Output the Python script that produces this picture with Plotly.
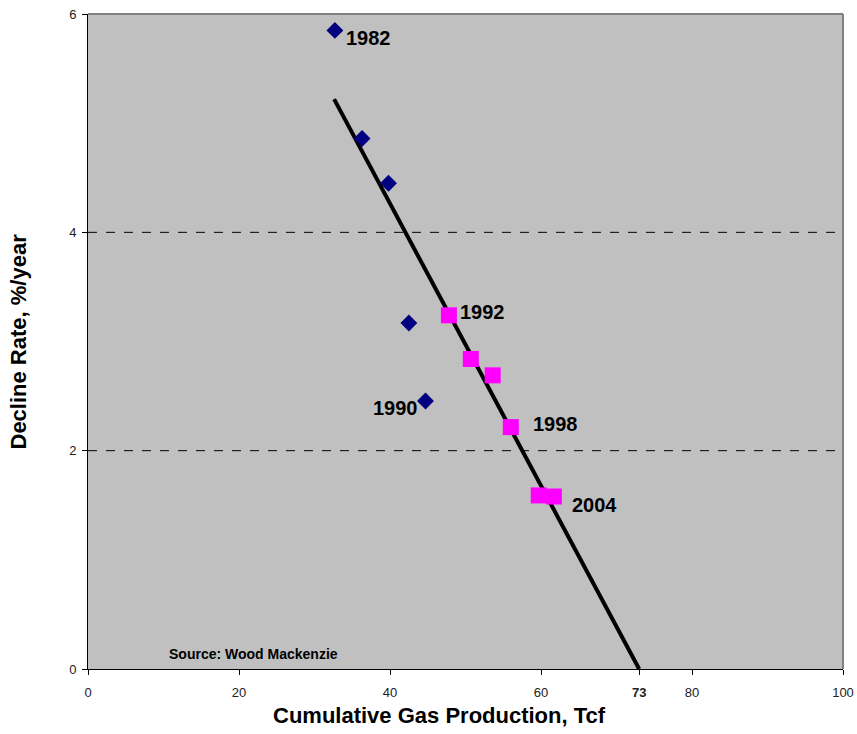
import plotly.graph_objects as go

# Data
blue_x = [32.7, 36.3, 39.8, 42.5, 44.7]
blue_y = [5.85, 4.86, 4.45, 3.17, 2.455]
mag_x = [47.8, 50.7, 53.6, 56.0, 59.7, 61.7]
mag_y = [3.24, 2.84, 2.69, 2.216, 1.59, 1.58]
trend_x = [32.6, 73.0]
trend_y = [5.22, 0.0]

year_labels = ["1982", "1990", "1992", "1998", "2004"]
label_x = [34.0, 43.9, 49.2, 58.8, 64.0]
label_y = [5.78, 2.39, 3.27, 2.24, 1.50]
label_anchor = ["left", "right", "left", "left", "left"]

x_ticks = [0, 20, 40, 60, 73, 80, 100]
x_ticktext = ["0", "20", "40", "60", "<b>73</b>", "80", "100"]
y_ticks = [0, 2, 4, 6]
grid_y = [2, 4]

FONT = "Liberation Sans, Arial"

fig = go.Figure()
fig.add_trace(go.Scatter(x=trend_x, y=trend_y, mode="lines",
                         line=dict(color="black", width=4), showlegend=False))
fig.add_trace(go.Scatter(x=blue_x, y=blue_y, mode="markers",
                         marker=dict(symbol="diamond", size=13, color="#000080"),
                         showlegend=False))
fig.add_trace(go.Scatter(x=mag_x, y=mag_y, mode="markers",
                         marker=dict(symbol="square", size=16, color="#FF00FF"),
                         showlegend=False))

for t, xx, yy, a in zip(year_labels, label_x, label_y, label_anchor):
    fig.add_annotation(x=xx, y=yy, text="<b>%s</b>" % t, showarrow=False,
                       xanchor=a, yanchor="middle", borderpad=0,
                       font=dict(family=FONT, size=20, color="black"))

fig.add_annotation(x=0.219, y=0.009, xref="paper", yref="paper",
                   text="<b>Source: Wood Mackenzie</b>", showarrow=False,
                   xanchor="center", yanchor="bottom", borderpad=0,
                   font=dict(family=FONT, size=14, color="black"))

# Axis titles
fig.add_annotation(x=0.466, y=0, xref="paper", yref="paper", yshift=-46,
                   text="<b>Cumulative Gas Production, Tcf</b>", showarrow=False,
                   xanchor="center", yanchor="middle", borderpad=0,
                   font=dict(family=FONT, size=22, color="black"))
fig.add_annotation(x=0, y=0.5, xref="paper", yref="paper", xshift=-70,
                   text="<b>Decline Rate, %/year</b>", showarrow=False, textangle=-90,
                   xanchor="center", yanchor="middle", borderpad=0,
                   font=dict(family=FONT, size=22, color="black"))

shapes = []
for g in grid_y:
    shapes.append(dict(type="line", xref="paper", x0=0, x1=1, yref="y", y0=g, y1=g,
                       line=dict(color="black", width=1, dash="dash"), layer="below"))
shapes.append(dict(type="line", xref="paper", yref="paper", x0=0, x1=1, y0=1, y1=1,
                   line=dict(color="#808080", width=2)))
shapes.append(dict(type="line", xref="paper", yref="paper", x0=1, x1=1, y0=0, y1=1,
                   line=dict(color="#808080", width=2)))

fig.update_layout(
    width=857, height=734,
    margin=dict(l=88, r=14, t=14, b=65),
    paper_bgcolor="white", plot_bgcolor="#C0C0C0",
    shapes=shapes,
    font=dict(family=FONT, size=13, color="black"),
    xaxis=dict(range=[0, 100], tickvals=x_ticks, ticktext=x_ticktext,
               automargin=False, ticklabelstandoff=6,
               showgrid=False, zeroline=False, showline=True, linecolor="black",
               linewidth=1, ticks="outside", ticklen=5, tickcolor="black",
               tickfont=dict(size=13, color="#222")),
    yaxis=dict(range=[0, 6], tickvals=y_ticks, automargin=False,
               ticklabelstandoff=3,
               showgrid=False, zeroline=False, showline=True, linecolor="black",
               linewidth=1, ticks="outside", ticklen=5, tickcolor="black",
               tickfont=dict(size=13, color="#222")),
)

fig.write_html("out.html")
